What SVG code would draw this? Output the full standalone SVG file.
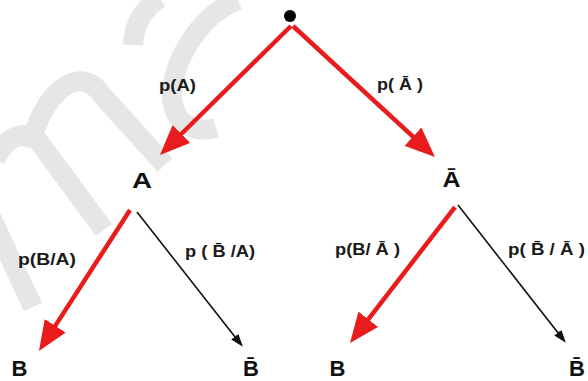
<svg xmlns="http://www.w3.org/2000/svg" width="588" height="381" viewBox="0 0 588 381">
  <style>
    .wm { fill: none; stroke: #e6e6e6; stroke-width: 20; }
    .red { stroke: #e81c1c; stroke-width: 4.5; fill: none; }
    .blk { stroke: #111; stroke-width: 1.6; fill: none; }
    .node { font-family: "Liberation Sans", Arial, sans-serif; font-weight: bold; font-size: 22px; fill: #111; text-anchor: middle; }
    .lbl { font-family: "Liberation Sans", Arial, sans-serif; font-weight: bold; font-size: 16.5px; fill: #1a1a1a; }
  </style>
  <defs>
    <marker id="redHead" markerUnits="userSpaceOnUse" viewBox="0 0 30 25" markerWidth="30" markerHeight="25" refX="20" refY="12.5" orient="auto">
      <path d="M0,0 L30,12.5 L0,25 z" fill="#e81c1c"/>
    </marker>
    <marker id="blkHead" markerUnits="userSpaceOnUse" viewBox="0 0 13 9" markerWidth="13" markerHeight="9" refX="10" refY="4.5" orient="auto">
      <path d="M0,0 L13,4.5 L0,9 z" fill="#111"/>
    </marker>
  </defs>
  <rect width="588" height="381" fill="#fff"/>

  <!-- watermark -->
  <g id="watermark">
    <path class="wm" d="M -10,215 L 33,307"/>
    <path class="wm" d="M -5,160 C 8,132 30,128 42,146 L 104,230"/>
    <path class="wm" d="M 30,148 C 42,92 80,62 102,95 L 165,165"/>
    <path class="wm" d="M 133,45 Q 134,15 160,-2"/>
    <path class="wm" d="M 238,0 C 200,15 172,60 172,98 C 174,124 195,134 216,128"/>
  </g>

  <g id="connectors">
    <line class="red" x1="291" y1="26" x2="167.1" y2="148" marker-end="url(#redHead)"/>
    <line class="red" x1="293" y1="26" x2="427.6" y2="150.2" marker-end="url(#redHead)"/>
    <line class="red" x1="130" y1="210" x2="44.4" y2="342.6" marker-end="url(#redHead)"/>
    <line class="red" x1="455" y1="207" x2="356.1" y2="335.1" marker-end="url(#redHead)"/>
    <line class="blk" x1="137" y1="212" x2="241" y2="344.5" marker-end="url(#blkHead)"/>
    <line class="blk" x1="458" y1="205" x2="564" y2="340.5" marker-end="url(#blkHead)"/>
  </g>

  <g id="labels">
    <text class="lbl" x="159" y="91" textLength="37" lengthAdjust="spacingAndGlyphs">p(A)</text>
    <text class="lbl" x="377" y="90" textLength="46" lengthAdjust="spacingAndGlyphs">p( Ā )</text>
    <text class="lbl" x="18" y="265" textLength="58" lengthAdjust="spacingAndGlyphs">p(B/A)</text>
    <text class="lbl" x="185" y="257" textLength="70" lengthAdjust="spacingAndGlyphs">p ( B̄ /A)</text>
    <text class="lbl" x="335" y="255" textLength="65" lengthAdjust="spacingAndGlyphs">p(B/ Ā )</text>
    <text class="lbl" x="508" y="255" textLength="77" lengthAdjust="spacingAndGlyphs">p( B̄ / Ā )</text>
  </g>

  <g id="root"><circle cx="290" cy="16" r="6" fill="#000"/></g>
  <g id="nodeA"><text class="node" x="142" y="188" textLength="20" lengthAdjust="spacingAndGlyphs">A</text></g>
  <g id="nodeNotA"><text class="node" x="451.5" y="187" textLength="18" lengthAdjust="spacingAndGlyphs">Ā</text></g>
  <g id="nodeB1"><text class="node" x="19.5" y="376" font-size="20">B</text></g>
  <g id="nodeNotB1"><text class="node" x="251" y="376" font-size="20">B̄</text></g>
  <g id="nodeB2"><text class="node" x="337.5" y="376" font-size="20">B</text></g>
  <g id="nodeNotB2"><text class="node" x="577" y="376" font-size="20">B̄</text></g>
</svg>
